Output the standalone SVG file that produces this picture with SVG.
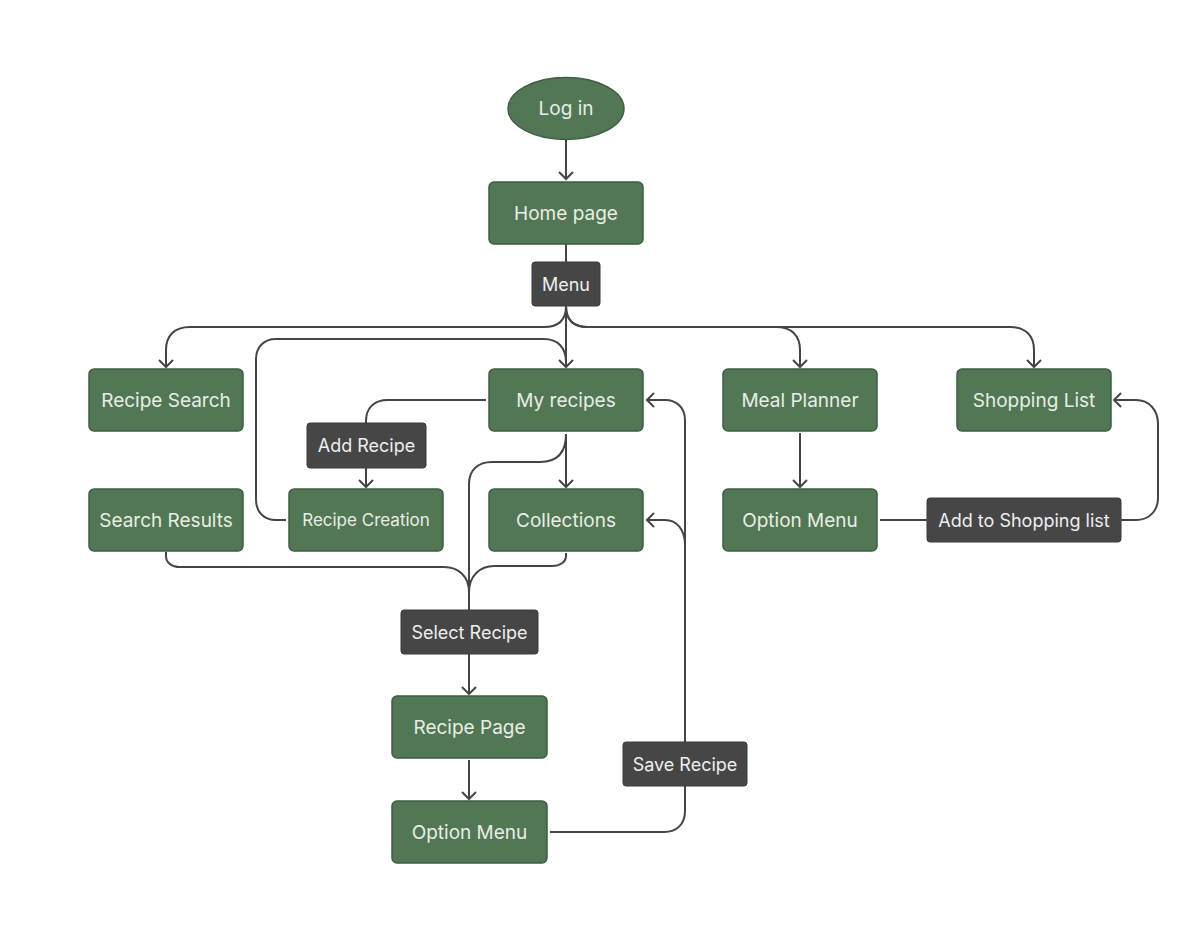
<svg xmlns="http://www.w3.org/2000/svg" width="1200" height="941" viewBox="0 0 1200 941">
  <style>
    .node rect, .node ellipse { fill: #527754; stroke: #3d5e40; stroke-width: 1.5; }
    .node text { fill: #e8eee5; font-family: Inter, "Noto Sans", sans-serif; font-size: 19px; text-anchor: middle; dominant-baseline: central; }
    .node text.small { font-size: 17px; }
    .label rect { fill: #464646; stroke: #3a3a3a; stroke-width: 1; }
    .label text { fill: #eeeeee; font-family: Inter, "Noto Sans", sans-serif; font-size: 18px; text-anchor: middle; dominant-baseline: central; }
    .edges path { fill: none; stroke: #454545; stroke-width: 2; }
  </style>
  <defs>
    <marker id="arrow" markerUnits="userSpaceOnUse" markerWidth="20" markerHeight="20" refX="0" refY="0" viewBox="-10 -10 20 20" orient="auto">
      <path d="M-7,-7 L0,0 L-7,7" fill="none" stroke="#454545" stroke-width="2"/>
    </marker>
  </defs>
  <rect width="1200" height="941" fill="#ffffff"/>

  <g class="edges">
    <path d="M566,140 L566,179" marker-end="url(#arrow)"/>
    <path d="M566,244 L566,262"/>
    <!-- Menu fan-out -->
    <path d="M566,306 L566,367" marker-end="url(#arrow)"/>
    <path d="M566,306 C566,320 558,327 544,327 L190,327 C174,327 166,336 166,350 L166,367" marker-end="url(#arrow)"/>
    <path d="M566,306 C566,320 574,327 588,327 L776,327 C792,327 800,336 800,350 L800,367" marker-end="url(#arrow)"/>
    <path d="M566,306 C566,320 574,327 588,327 L1010,327 C1026,327 1034,336 1034,350 L1034,367" marker-end="url(#arrow)"/>
    <!-- Recipe Creation back to My recipes -->
    <path d="M286,520 L276,520 C264,520 256,512 256,500 L256,359 C256,347 264,339 276,339 L544,339 C558,339 566,348 566,362 L566,367"/>
    <!-- Add Recipe -->
    <path d="M486,400 L388,400 C374,400 366,408 366,421 L366,487" marker-end="url(#arrow)"/>
    <!-- My recipes to Collections -->
    <path d="M566,434 L566,487" marker-end="url(#arrow)"/>
    <!-- Into Select Recipe -->
    <path d="M566,434 C566,452 558,462 540,462 L492,462 C478,462 469,470 469,484 L469,694" marker-end="url(#arrow)"/>
    <path d="M166,552 L166,556 C166,563 172,567 180,567 L444,567 C458,567 469,576 469,592"/>
    <path d="M566,553 L566,556 C566,562 560,566 552,566 L494,566 C480,566 469,576 469,592"/>
    <!-- Recipe Page to Option Menu -->
    <path d="M469,760 L469,799" marker-end="url(#arrow)"/>
    <!-- Save Recipe -->
    <path d="M550,832 L664,832 C677,832 685,824 685,811 L685,420 C685,408 677,400 665,400 L647,400" marker-end="url(#arrow)"/>
    <path d="M685,545 C685,530 677,520 665,520 L647,520" marker-end="url(#arrow)"/>
    <!-- Meal planner -->
    <path d="M800,433 L800,487" marker-end="url(#arrow)"/>
    <path d="M880,520 L1136,520 C1149,520 1158,511 1158,498 L1158,424 C1158,410 1149,400 1136,400 L1114,400" marker-end="url(#arrow)"/>
  </g>

  <g id="login" class="node"><ellipse cx="566" cy="108.5" rx="58" ry="31"/><text x="566" y="108.5">Log in</text></g>
  <g id="home" class="node"><rect x="489" y="182" width="154" height="62" rx="5"/><text x="566" y="213">Home page</text></g>
  <g id="menu" class="label"><rect x="532" y="262" width="68" height="44" rx="3"/><text x="566" y="284">Menu</text></g>

  <g id="recipe-search" class="node"><rect x="89" y="369" width="154" height="62" rx="5"/><text x="166" y="400">Recipe Search</text></g>
  <g id="my-recipes" class="node"><rect x="489" y="369" width="154" height="62" rx="5"/><text x="566" y="400">My recipes</text></g>
  <g id="meal-planner" class="node"><rect x="723" y="369" width="154" height="62" rx="5"/><text x="800" y="400">Meal Planner</text></g>
  <g id="shopping-list" class="node"><rect x="957" y="369" width="154" height="62" rx="5"/><text x="1034" y="400">Shopping List</text></g>

  <g id="add-recipe" class="label"><rect x="307" y="423" width="119" height="45" rx="3"/><text x="366.5" y="445.5">Add Recipe</text></g>

  <g id="search-results" class="node"><rect x="89" y="489" width="154" height="62" rx="5"/><text x="166" y="520">Search Results</text></g>
  <g id="recipe-creation" class="node"><rect x="289" y="489" width="154" height="62" rx="5"/><text class="small" x="366" y="520">Recipe Creation</text></g>
  <g id="collections" class="node"><rect x="489" y="489" width="154" height="62" rx="5"/><text x="566" y="520">Collections</text></g>
  <g id="meal-option-menu" class="node"><rect x="723" y="489" width="154" height="62" rx="5"/><text x="800" y="520">Option Menu</text></g>

  <g id="add-to-shopping" class="label"><rect x="927" y="498" width="194" height="44" rx="3"/><text x="1024" y="520">Add to Shopping list</text></g>
  <g id="select-recipe" class="label"><rect x="401" y="610" width="137" height="44" rx="3"/><text x="469.5" y="632">Select Recipe</text></g>

  <g id="recipe-page" class="node"><rect x="392" y="696" width="155" height="62" rx="5"/><text x="469.5" y="727">Recipe Page</text></g>
  <g id="save-recipe" class="label"><rect x="623" y="742" width="124" height="44" rx="3"/><text x="685" y="764">Save Recipe</text></g>
  <g id="recipe-option-menu" class="node"><rect x="392" y="801" width="155" height="62" rx="5"/><text x="469.5" y="832">Option Menu</text></g>
</svg>
